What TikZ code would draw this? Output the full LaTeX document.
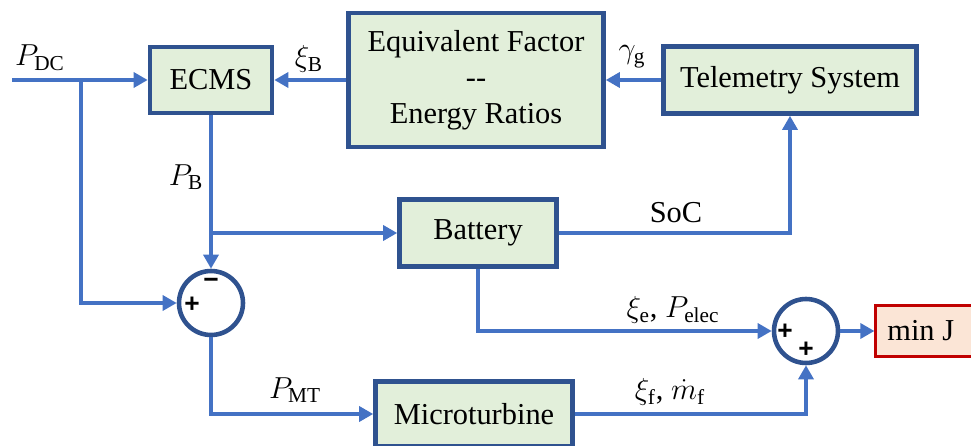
\documentclass[tikz,border=0pt]{standalone}
\usepackage{fontspec}
\setmainfont{LiberationSerif}[Extension=.ttf, UprightFont=*-Regular,
  BoldFont=*-Bold, ItalicFont=*-Italic]
\newfontfamily\signfont{Liberation Sans}
\usetikzlibrary{arrows.meta}

\definecolor{linkblue}{HTML}{4472C4}
\definecolor{boxblue}{HTML}{2F528F}
\definecolor{boxgreen}{HTML}{E2EFDA}
\definecolor{jred}{HTML}{C00000}
\definecolor{jfill}{HTML}{FBE5D6}

\begin{document}
\begin{tikzpicture}[x=0.02cm, y=-0.02cm,
        block/.style={rectangle, draw=boxblue, fill=boxgreen, line width=2.6pt,
                      font=\rmfamily\fontsize{17.3}{20.4}\selectfont, align=center, inner sep=0pt},
        sumnode/.style={circle, draw=boxblue, line width=2.6pt,
                        minimum size=1.28cm, inner sep=0pt},
        sign/.style={font=\signfont\bfseries\fontsize{15}{15}\selectfont, inner sep=0pt},
        lab/.style={font=\rmfamily\fontsize{17.3}{20.4}\selectfont, inner sep=0pt},
        link/.style={draw=linkblue, line width=2.2pt,
                     -{Triangle[length=8pt, width=8.5pt]}}
    ]
        \useasboundingbox (0,0) rectangle (971,446);

        % blocks
        \node[block, minimum width=2.44cm, minimum height=1.32cm] (ecms) at (211,80) {ECMS};
        \node[block, minimum width=5.1cm, minimum height=2.68cm] (eqf) at (476,80)
            {Equivalent Factor\\{-}{-}\\Energy Ratios};
        \node[block, minimum width=5.06cm, minimum height=1.34cm] (tele) at (790,80) {Telemetry System};
        \node[block, minimum width=3.14cm, minimum height=1.34cm] (bat) at (478,233) {Battery};
        \node[block, minimum width=3.94cm, minimum height=1.3cm] (mt) at (474,414) {Microturbine};
        \node[block, draw=jred, fill=jfill, line width=1.2pt,
              minimum width=2.1cm, minimum height=1.02cm] (minj) at (928,331) {};
        \node[lab, anchor=west] (minjtxt) at (887,331) {min J};

        % summing junctions
        \node[sumnode] (sum1) at (211,303) {};
        \node[sumnode] (sum2) at (806,331) {};
        \node[sign] (s1minus) at (211,283) {−};
        \node[sign] (s1plus) at (192,305) {+};
        \node[sign] (s2plusa) at (785,332) {+};
        \node[sign] (s2plusb) at (806,350) {+};

        % connectors
        \coordinate (pin) at (12,80);
        \coordinate (jdc) at (81,80);
        \coordinate (jb) at (211,233);
        \draw[link] (pin) -- (ecms.west);
        \draw[link] (eqf.west) -- (ecms.east);
        \draw[link] (tele.west) -- (eqf.east);
        \draw[link] (jdc) |- (sum1.west);
        \draw[link] (ecms.south) -- (sum1.north);
        \draw[link] (jb) -- (bat.west);
        \draw[link] (bat.east) -| (tele.south);
        \draw[link] (sum1.south) |- (mt.west);
        \draw[link] (bat.south) |- (sum2.west);
        \draw[link] (mt.east) -| (sum2.south);
        \draw[link] (sum2.east) -- (minj.west);

        % labels
        \node[lab] (lpdc) at (40,58) {$P_{\mathrm{DC}}$};
        \node[lab] (lxib) at (309,59) {$\xi_{\mathrm{B}}$};
        \node[lab] (lgam) at (632,57) {$\gamma_{\mathrm{g}}$};
        \node[lab] (lpb) at (186,177) {$P_{\mathrm{B}}$};
        \node[lab] (lsoc) at (676,213) {SoC};
        \node[lab] (lxie) at (673,310) {$\xi_{\mathrm{e}}$, $P_{\mathrm{elec}}$};
        \node[lab] (lpmt) at (295,390) {$P_{\mathrm{MT}}$};
        \node[lab] (lxif) at (670,392) {$\xi_{\mathrm{f}}$, $\dot{m}_{\mathrm{f}}$};
\end{tikzpicture}
\end{document}
